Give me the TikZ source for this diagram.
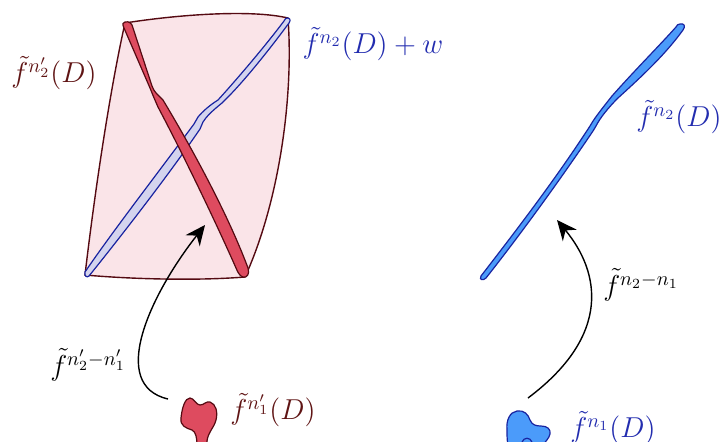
\documentclass[tikz,border=0pt]{standalone}
\usepackage{amsmath}
\usetikzlibrary{arrows.meta}
\definecolor{setborder}{RGB}{85,10,18}
\definecolor{setfill}{RGB}{250,228,232}
\definecolor{redset}{RGB}{222,75,95}
\definecolor{lavset}{RGB}{212,212,238}
\definecolor{blueline}{RGB}{25,35,160}
\definecolor{blueset}{RGB}{75,155,250}
\definecolor{labred}{RGB}{95,20,20}
\definecolor{labblue}{RGB}{35,45,175}
\tikzset{
  setregion/.style={draw=setborder,fill=setfill,line width=0.7pt},
  redsliver/.style={draw=setborder,fill=redset,line width=0.6pt},
  lavsliver/.style={draw=blueline,fill=lavset,line width=0.6pt},
  bluesliver/.style={draw=blueline,fill=blueset,line width=0.6pt},
  redlabel/.style={text=labred,font=\Large,inner sep=0pt},
  bluelabel/.style={text=labblue,font=\Large,inner sep=0pt},
  maplabel/.style={text=black,font=\Large,inner sep=0pt},
  maparrow/.style={-{Stealth[length=10pt,width=9pt]},line width=0.7pt},
}

\begin{document}
\begin{tikzpicture}[x=0.5pt,y=-0.5pt]
  \useasboundingbox (0,0) rectangle (724,441);
  \clip (0,0) rectangle (724,441);

  % the big region and its two thin images
  \draw[setregion] (125,23) .. controls (175,15) and (250,9) .. (288,18)
    .. controls (294,100) and (278,205) .. (245,277)
    .. controls (195,281) and (130,279) .. (85,275)
    .. controls (95,190) and (110,90) .. (125,23) -- cycle;
  \draw[lavsliver] (287,18) .. controls (290,18) and (291,20) .. (289,23)
    .. controls (272,46) and (244,82) .. (222,103)
    .. controls (212,111) and (206,117) .. (203,122)
    -- (200,129) .. controls (168,176) and (118,240) .. (89,276)
    .. controls (87,278) and (84,276) .. (85,272)
    .. controls (110,235) and (160,170) .. (194,124)
    -- (198,117) .. controls (203,111) and (210,105) .. (218,100)
    .. controls (238,78) and (266,45) .. (284,21)
    .. controls (285,19) and (286,18) .. (287,18) -- cycle;
  \draw[redsliver] (125,22) .. controls (129,21) and (132,23) .. (133,28)
    -- (152,86) .. controls (154,92) and (158,95) .. (163,100)
    .. controls (202,165) and (232,225) .. (248,268)
    .. controls (250,274) and (247,278) .. (243,277)
    .. controls (240,276) and (238,273) .. (236,268)
    .. controls (217,225) and (186,160) .. (158,107)
    .. controls (154,98) and (152,93) .. (150,88)
    -- (124,28) .. controls (122,24) and (123,22) .. (125,22) -- cycle;

  % right hand image
  \draw[bluesliver] (680,24) .. controls (684,23) and (686,26) .. (683,30)
    .. controls (665,55) and (640,78) .. (618,98)
    .. controls (608,108) and (600,118) .. (596,126)
    -- (593,131) .. controls (560,180) and (520,235) .. (486,278)
    .. controls (483,281) and (479,280) .. (481,276)
    .. controls (515,232) and (555,180) .. (590,126)
    .. controls (595,117) and (605,105) .. (612,96)
    .. controls (635,70) and (660,45) .. (676,27)
    .. controls (677,25) and (678,24) .. (680,24) -- cycle;

  % small disks
  \draw[redsliver] (181,418) .. controls (182,408) and (185,398) .. (190,398)
    .. controls (194,398) and (196,405) .. (200,405)
    .. controls (204,405) and (206,401) .. (210,402)
    .. controls (216,404) and (218,412) .. (216,420)
    .. controls (214,428) and (208,432) .. (207,441)
    -- (207,446) -- (197,446)
    .. controls (197,438) and (196,432) .. (192,430)
    .. controls (186,428) and (180,426) .. (181,418) -- cycle;
  \draw[bluesliver] (507,430) .. controls (506,420) and (510,412) .. (517,411)
    .. controls (524,410) and (528,414) .. (530,420)
    .. controls (532,425) and (536,426) .. (541,426)
    .. controls (547,426) and (551,429) .. (550,434)
    .. controls (549,439) and (545,441) .. (543,446)
    -- (508,446) .. controls (507,440) and (507,435) .. (507,430) -- cycle;
  \draw[blueline,line width=0.6pt] (522,442) .. controls (524,437) and (530,437) .. (532,442);

  \coordinate (redsrc) at (168,399);
  \coordinate (redtip) at (205,225);
  \coordinate (bluesrc) at (528,398);
  \coordinate (bluetip) at (557,220);
  \draw[maparrow] (redsrc) .. controls (108,385) and (150,295) .. (redtip);
  \draw[maparrow] (bluesrc) .. controls (612,335) and (600,272) .. (bluetip);

  \node[redlabel] (redimg) at (54,73) {$\tilde{f}^{n'_2}(D)$};
  \node[bluelabel] (shiftimg) at (373,44) {$\tilde{f}^{n_2}(D)+w$};
  \node[bluelabel] (blueimg) at (679,117) {$\tilde{f}^{n_2}(D)$};
  \node[maplabel] (bluemap) at (641,285) {$\tilde{f}^{n_2-n_1}$};
  \node[maplabel] (redmap) at (88,365) {$\tilde{f}^{n'_2-n'_1}$};
  \node[redlabel] (reddisk) at (273,410) {$\tilde{f}^{n'_1}(D)$};
  \node[bluelabel] (bluedisk) at (613,428) {$\tilde{f}^{n_1}(D)$};
\end{tikzpicture}
\end{document}
